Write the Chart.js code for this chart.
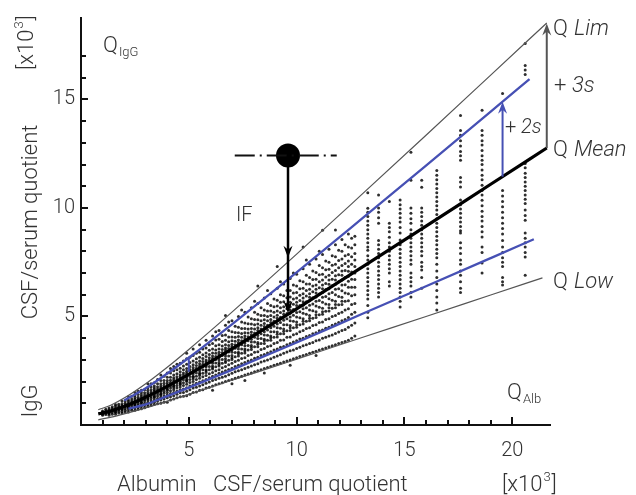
<!DOCTYPE html>
<html>
<head>
<meta charset="utf-8">
<script src="https://cdn.jsdelivr.net/npm/chart.js@4.4.0/dist/chart.umd.min.js"></script>
<style>
  html, body { margin: 0; padding: 0; background: #fff; }
  canvas { display: block; }
</style>
</head>
<body>
<canvas id="reiber" width="636" height="495"></canvas>
<script>
// tick labels
const xTickLabels = [5, 10, 15, 20];
const yTickLabels = [5, 10, 15];

// reference curves (x = Q Alb, y = Q IgG, both x10^3)
const limX = [0.8, 1.4, 2, 3, 4, 5, 7, 10, 13, 16, 19, 21.6];
const limY = [0.70, 0.92, 1.24, 1.90, 2.66, 3.48, 5.20, 7.87, 10.60, 13.35, 16.12, 18.52];
const meanX = [0.8, 1.4, 2, 3, 4, 5, 7, 10, 13, 16, 19, 21.6];
const meanY = [0.51, 0.65, 0.85, 1.28, 1.78, 2.33, 3.51, 5.35, 7.25, 9.16, 11.09, 12.76];
const lowX = [0.8, 1.4, 2, 3, 4, 5, 7, 10, 13, 16, 19, 21.4];
const lowY = [0.24, 0.36, 0.51, 0.79, 1.10, 1.41, 2.06, 3.03, 4.02, 5.00, 5.99, 6.78];
const upper2sX = [2, 3, 4, 5, 7, 10, 13, 16, 19, 20.8];
const upper2sY = [1.13, 1.69, 2.37, 3.10, 4.64, 7.03, 9.48, 11.95, 14.44, 15.93];
const lower2sX = [2.2, 3, 4, 5, 7, 10, 13, 16, 19, 21];
const lower2sY = [0.75, 0.95, 1.33, 1.72, 2.54, 3.80, 5.10, 6.39, 7.69, 8.56];

// patient cloud, dense part (one list of y per x column)
const cloudX = [1.0, 1.3, 1.6, 1.9, 2.2, 2.5, 2.8, 3.1, 3.4, 3.7, 4.0, 4.3, 4.6, 4.9, 5.2, 5.5, 5.8,
  6.1, 6.4, 6.7, 7.0, 7.3, 7.6, 7.9, 8.2, 8.5, 8.8, 9.1, 9.4, 9.7, 10.0, 10.3, 10.6, 10.9, 11.2,
  11.5, 11.8, 12.1, 12.4, 12.7];
const cloudY = [
  [0.45, 0.5, 0.55, 0.6, 0.65, 0.52, 0.58],
  [0.45, 0.52, 0.58, 0.62, 0.66, 0.7, 0.78, 0.55],
  [0.5, 0.58, 0.64, 0.7, 0.74, 0.8, 0.88, 0.95, 0.6],
  [0.55, 0.62, 0.7, 0.76, 0.8, 0.85, 0.9, 0.98, 1.1, 0.72],
  [0.6, 0.7, 0.78, 0.85, 0.9, 0.95, 1.0, 1.08, 1.15, 1.3, 0.82],
  [0.68, 0.78, 0.88, 0.95, 1.0, 1.05, 1.1, 1.18, 1.25, 1.35, 1.5, 0.92],
  [0.75, 0.85, 0.95, 1.05, 1.12, 1.18, 1.22, 1.3, 1.38, 1.48, 1.6, 1.02],
  [0.85, 0.95, 1.05, 1.15, 1.25, 1.3, 1.35, 1.42, 1.5, 1.6, 1.72, 1.9, 1.2],
  [0.95, 1.05, 1.15, 1.25, 1.35, 1.42, 1.48, 1.55, 1.62, 1.7, 1.8, 1.95, 1.3],
  [1.0, 1.15, 1.28, 1.38, 1.48, 1.55, 1.6, 1.66, 1.72, 1.8, 1.9, 2.05, 2.3, 1.42],
  [1.05, 1.25, 1.38, 1.5, 1.6, 1.7, 1.75, 1.8, 1.86, 1.95, 2.05, 2.2, 2.4, 1.65],
  [1.2, 1.35, 1.5, 1.62, 1.72, 1.82, 1.9, 1.95, 2.0, 2.08, 2.18, 2.3, 2.5, 2.7, 1.78],
  [1.3, 1.48, 1.62, 1.75, 1.85, 1.95, 2.02, 2.08, 2.14, 2.22, 2.32, 2.45, 2.62, 2.85, 1.9],
  [1.35, 1.55, 1.72, 1.88, 2.0, 2.1, 2.18, 2.25, 2.3, 2.38, 2.48, 2.6, 2.8, 3.05, 2.05, 3.3],
  [1.5, 1.7, 1.85, 2.0, 2.12, 2.25, 2.35, 2.42, 2.48, 2.55, 2.65, 2.78, 2.95, 3.2, 2.2, 3.5],
  [1.6, 1.8, 1.98, 2.15, 2.28, 2.4, 2.5, 2.58, 2.65, 2.72, 2.82, 2.95, 3.12, 3.35, 2.35, 3.7],
  [1.7, 1.92, 2.1, 2.28, 2.42, 2.55, 2.68, 2.75, 2.82, 2.9, 3.0, 3.15, 3.32, 3.55, 2.5, 3.9],
  [1.8, 2.05, 2.25, 2.42, 2.58, 2.72, 2.85, 2.92, 3.0, 3.08, 3.18, 3.32, 3.5, 3.75, 2.65, 4.1, 1.6],
  [1.9, 2.15, 2.38, 2.55, 2.72, 2.88, 3.0, 3.1, 3.18, 3.25, 3.35, 3.5, 3.7, 3.95, 2.8, 4.35],
  [2.0, 2.25, 2.5, 2.7, 2.88, 3.05, 3.18, 3.28, 3.36, 3.45, 3.55, 3.7, 3.9, 4.15, 2.95, 4.6, 5.05],
  [2.1, 2.38, 2.62, 2.85, 3.02, 3.2, 3.35, 3.45, 3.55, 3.62, 3.72, 3.88, 4.05, 4.3, 3.1, 4.8, 1.9],
  [2.2, 2.5, 2.75, 2.98, 3.18, 3.35, 3.5, 3.62, 3.72, 3.8, 3.92, 4.08, 4.25, 4.5, 3.28, 5.0],
  [2.3, 2.6, 2.88, 3.1, 3.32, 3.5, 3.65, 3.78, 3.9, 3.98, 4.1, 4.25, 4.45, 4.7, 3.42, 5.2, 2.05],
  [2.4, 2.72, 3.0, 3.25, 3.48, 3.66, 3.82, 3.95, 4.06, 4.16, 4.28, 4.45, 4.65, 4.9, 3.58, 5.4],
  [2.5, 2.82, 3.12, 3.38, 3.6, 3.8, 3.98, 4.12, 4.24, 4.35, 4.48, 4.65, 4.85, 5.1, 3.72, 5.6, 6.4],
  [2.6, 2.95, 3.25, 3.52, 3.75, 3.95, 4.15, 4.3, 4.42, 4.54, 4.68, 4.85, 5.05, 5.3, 3.88, 5.85, 2.4],
  [2.7, 3.05, 3.38, 3.65, 3.9, 4.1, 4.3, 4.48, 4.6, 4.72, 4.86, 5.05, 5.25, 5.5, 4.02, 6.05],
  [2.8, 3.18, 3.5, 3.8, 4.05, 4.28, 4.48, 4.65, 4.8, 4.92, 5.06, 5.25, 5.48, 5.75, 4.18, 6.3, 7.3],
  [2.9, 3.3, 3.62, 3.92, 4.2, 4.42, 4.62, 4.82, 4.98, 5.1, 5.25, 5.45, 5.68, 5.95, 4.32, 6.5],
  [3.0, 3.42, 3.75, 4.05, 4.35, 4.58, 4.8, 4.98, 5.15, 5.3, 5.45, 5.65, 5.9, 6.2, 4.48, 6.75, 2.75],
  [3.1, 3.52, 3.88, 4.2, 4.5, 4.75, 4.98, 5.18, 5.35, 5.5, 5.65, 5.85, 6.1, 6.4, 4.62, 6.95],
  [3.2, 3.65, 4.0, 4.35, 4.65, 4.9, 5.15, 5.35, 5.52, 5.68, 5.85, 6.05, 6.3, 6.6, 4.78, 7.2, 8.2],
  [3.3, 3.75, 4.12, 4.48, 4.8, 5.05, 5.3, 5.52, 5.72, 5.88, 6.05, 6.25, 6.5, 6.8, 4.92, 7.4],
  [3.4, 3.88, 4.25, 4.62, 4.95, 5.22, 5.48, 5.7, 5.9, 6.08, 6.25, 6.45, 6.72, 7.02, 5.08, 7.65, 3.2],
  [3.5, 4.0, 4.38, 4.75, 5.1, 5.38, 5.65, 5.88, 6.1, 6.28, 6.45, 6.68, 6.95, 7.25, 5.22, 7.85, 8.97],
  [3.6, 4.1, 4.5, 4.9, 5.25, 5.55, 5.82, 6.05, 6.28, 6.48, 6.68, 6.9, 7.18, 7.5, 5.4, 8.1],
  [3.7, 4.22, 4.65, 5.05, 5.4, 5.7, 6.0, 6.25, 6.48, 6.68, 6.88, 7.12, 7.4, 7.75, 5.55, 8.3, 8.98],
  [3.8, 4.35, 4.8, 5.2, 5.55, 5.88, 6.18, 6.45, 6.68, 6.9, 7.1, 7.35, 7.65, 8.0, 5.7, 8.55],
  [3.9, 4.5, 4.95, 5.35, 5.72, 6.05, 6.35, 6.62, 6.85, 7.08, 7.3, 7.55, 7.85, 8.2, 8.8],
  [4.1, 4.7, 5.2, 5.6, 6.0, 6.35, 6.7, 7.0, 7.3, 7.6, 7.9, 8.3, 8.7]
];

// in-between columns of the dense part
const cloud2X = [1.15, 1.45, 1.75, 2.05, 2.35, 2.65, 2.95, 3.25, 3.55, 3.85, 4.15, 4.45, 4.75, 5.05,
  5.35, 5.65, 5.95, 6.25, 6.55, 6.85, 7.15, 7.45, 7.75, 8.05, 8.35, 8.65, 8.95, 9.25, 9.55, 9.85,
  10.15, 10.45, 10.75, 11.05, 11.35, 11.65, 11.95, 12.25, 12.55];
const cloud2Y = [
  [0.48, 0.54, 0.6, 0.66, 0.72],
  [0.5, 0.58, 0.64, 0.7, 0.76, 0.84],
  [0.55, 0.63, 0.7, 0.76, 0.82, 0.88, 0.96],
  [0.6, 0.68, 0.76, 0.83, 0.88, 0.93, 1.0, 1.1],
  [0.68, 0.76, 0.84, 0.92, 0.98, 1.04, 1.1, 1.2, 1.32],
  [0.72, 0.82, 0.92, 1.0, 1.08, 1.14, 1.2, 1.28, 1.4, 1.55],
  [0.8, 0.9, 1.0, 1.1, 1.18, 1.25, 1.3, 1.38, 1.48, 1.62],
  [0.9, 1.0, 1.12, 1.22, 1.3, 1.38, 1.44, 1.52, 1.62, 1.75, 1.9],
  [0.98, 1.1, 1.22, 1.34, 1.44, 1.52, 1.58, 1.66, 1.76, 1.9, 2.1],
  [1.05, 1.2, 1.34, 1.46, 1.56, 1.66, 1.74, 1.82, 1.92, 2.05, 2.25],
  [1.15, 1.3, 1.45, 1.58, 1.7, 1.8, 1.88, 1.96, 2.06, 2.2, 2.4, 2.6],
  [1.25, 1.42, 1.56, 1.7, 1.82, 1.94, 2.04, 2.12, 2.22, 2.36, 2.55, 2.8],
  [1.32, 1.5, 1.66, 1.82, 1.95, 2.08, 2.2, 2.3, 2.4, 2.55, 2.72, 2.95],
  [1.42, 1.62, 1.8, 1.96, 2.1, 2.24, 2.36, 2.46, 2.56, 2.7, 2.88, 3.12],
  [1.52, 1.74, 1.92, 2.1, 2.25, 2.4, 2.52, 2.62, 2.74, 2.88, 3.05, 3.3],
  [1.62, 1.85, 2.04, 2.22, 2.38, 2.54, 2.68, 2.8, 2.92, 3.06, 3.24, 3.5],
  [1.74, 1.98, 2.18, 2.36, 2.54, 2.7, 2.86, 2.98, 3.1, 3.25, 3.44, 3.7],
  [1.85, 2.1, 2.3, 2.5, 2.68, 2.86, 3.02, 3.16, 3.3, 3.45, 3.65, 3.92, 4.3],
  [1.95, 2.2, 2.44, 2.64, 2.84, 3.02, 3.2, 3.34, 3.48, 3.64, 3.85, 4.12],
  [2.05, 2.32, 2.56, 2.78, 2.98, 3.18, 3.36, 3.52, 3.66, 3.84, 4.05, 4.35, 4.75],
  [2.15, 2.45, 2.7, 2.92, 3.14, 3.34, 3.54, 3.7, 3.86, 4.04, 4.26, 4.55],
  [2.25, 2.55, 2.82, 3.06, 3.3, 3.5, 3.7, 3.88, 4.04, 4.22, 4.45, 4.75, 5.3],
  [2.35, 2.66, 2.95, 3.2, 3.45, 3.66, 3.88, 4.06, 4.24, 4.42, 4.66, 4.98],
  [2.45, 2.78, 3.08, 3.35, 3.6, 3.82, 4.04, 4.24, 4.42, 4.62, 4.86, 5.2, 5.7],
  [2.55, 2.9, 3.2, 3.48, 3.75, 3.98, 4.2, 4.42, 4.6, 4.8, 5.05, 5.4],
  [2.65, 3.0, 3.32, 3.62, 3.9, 4.14, 4.38, 4.6, 4.8, 5.0, 5.25, 5.6, 6.2],
  [2.75, 3.12, 3.45, 3.76, 4.04, 4.3, 4.55, 4.78, 4.98, 5.2, 5.45, 5.8],
  [2.85, 3.24, 3.58, 3.9, 4.2, 4.46, 4.72, 4.96, 5.18, 5.4, 5.66, 6.0, 6.6],
  [2.95, 3.36, 3.7, 4.04, 4.34, 4.62, 4.9, 5.14, 5.36, 5.58, 5.86, 6.2],
  [3.05, 3.46, 3.82, 4.16, 4.48, 4.78, 5.06, 5.32, 5.56, 5.8, 6.08, 6.45, 7.0],
  [3.15, 3.58, 3.96, 4.3, 4.62, 4.94, 5.22, 5.5, 5.74, 5.98, 6.28, 6.65],
  [3.25, 3.7, 4.08, 4.44, 4.78, 5.1, 5.4, 5.68, 5.94, 6.2, 6.5, 6.9, 7.6],
  [3.35, 3.8, 4.2, 4.58, 4.92, 5.26, 5.58, 5.86, 6.14, 6.4, 6.7, 7.1],
  [3.45, 3.92, 4.34, 4.72, 5.08, 5.42, 5.74, 6.04, 6.32, 6.6, 6.92, 7.35, 8.0],
  [3.55, 4.04, 4.46, 4.86, 5.24, 5.58, 5.92, 6.24, 6.52, 6.82, 7.15, 7.55],
  [3.65, 4.15, 4.6, 5.0, 5.38, 5.75, 6.1, 6.42, 6.72, 7.02, 7.36, 7.8],
  [3.75, 4.28, 4.72, 5.14, 5.54, 5.92, 6.28, 6.6, 6.92, 7.24, 7.58, 8.05],
  [3.85, 4.4, 4.86, 5.3, 5.7, 6.08, 6.46, 6.8, 7.12, 7.44, 7.8, 8.3],
  [4.0, 4.6, 5.1, 5.55, 5.95, 6.35, 6.72, 7.05, 7.4, 7.75, 8.15, 8.6]
];

// patient cloud, sparse columns at high Q Alb
const colX = [13.3, 13.8, 14.3, 14.8, 15.3, 15.8, 16.5, 17.6, 18.6, 19.55, 20.6];
const colY = [
  [10.7, 9.98, 9.8, 9.6, 9.4, 9.2, 9.0, 8.8, 8.6, 8.4, 8.2, 8.05, 7.8, 7.6, 7.4, 7.2, 7.0, 6.8, 6.6, 6.4, 6.2, 6.0, 5.8, 5.5, 5.2, 4.94],
  [10.6, 10.0, 9.8, 9.55, 9.3, 8.5, 8.3, 8.1, 7.9, 7.7, 7.5, 7.3, 7.1, 6.9, 6.7, 6.5, 6.3, 6.1, 5.9],
  [10.3, 9.3, 9.1, 8.9, 8.65, 8.4, 8.2, 8.0, 7.8, 7.6, 7.4, 7.2, 7.0, 6.6, 6.4],
  [10.36, 10.15, 9.95, 9.75, 9.55, 9.35, 9.1, 8.84, 8.52, 8.3, 8.1, 7.9, 7.7, 7.5, 7.3, 7.1, 6.9, 6.7, 6.5, 6.3, 6.1, 5.9, 5.7, 5.44],
  [12.56, 11.27, 10.0, 9.75, 9.5, 9.3, 9.0, 8.8, 8.6, 8.4, 8.2, 8.0, 7.8, 7.6, 7.4, 7.0, 6.8, 6.6, 6.4, 6.1, 5.9],
  [11.27, 10.95, 10.0, 9.8, 9.6, 9.4, 9.2, 9.0, 8.8, 8.6, 8.4, 8.2, 8.0, 7.8, 7.5, 7.3, 7.14, 6.8, 6.3],
  [11.73, 11.5, 11.3, 11.1, 10.9, 10.7, 10.5, 10.3, 10.1, 9.9, 9.7, 9.5, 9.3, 9.1, 8.9, 8.7, 8.5, 8.3, 8.1, 7.9, 7.7, 7.4, 7.1, 6.8, 6.5, 6.2, 5.9, 5.62, 5.3],
  [14.26, 13.57, 13.35, 13.1, 12.85, 12.6, 12.4, 12.2, 11.4, 11.2, 10.96, 10.36, 10.15, 9.95, 9.75, 9.55, 9.35, 9.15, 8.95, 8.84, 8.4, 8.15, 7.9, 7.6, 7.4, 7.1, 6.9, 6.6, 6.3, 6.1],
  [14.5, 13.57, 13.35, 13.1, 12.9, 12.65, 12.4, 12.2, 12.0, 11.75, 11.5, 11.3, 11.05, 10.8, 10.6, 10.35, 10.1, 9.85, 9.6, 9.4, 9.15, 8.9, 8.66, 8.2, 7.95, 7.46, 7.0],
  [15.27, 10.8, 10.55, 10.3, 10.05, 9.8, 9.55, 9.3, 9.05, 8.8, 8.5, 8.2, 7.95, 7.7, 7.5, 7.3, 6.8, 6.6, 6.45],
  [17.58, 16.56, 16.35, 16.15, 12.05, 11.85, 11.6, 11.4, 11.2, 11.0, 10.8, 10.6, 10.4, 10.2, 9.9, 9.65, 9.43, 8.84, 8.6, 8.4, 8.2, 7.95, 7.74, 6.9]
];

// annotation marks: single patient, IF arrow, +2s / +3s arrows
const patientX = 9.6;
const patientY = 12.42;
const patientLineX = [7.13, 11.86];
const ifArrowY = [12.42, 5.3];
const arrowX = [21.6, 19.55, 9.6, 9.6];
const arrowTip = [18.5, 14.89, 7.7, 5.15];
const arrowDir = [1, 1, -1, -1];
const arrowColor = ["#555", "#4650b4", "#000", "#000"];
const threeSX = 21.6, threeSY = [12.76, 18.2];
const twoSX = 19.55, twoSY = [11.44, 14.6];
const smallTickX = 5, smallTickY = [2.45, 3.14];

const blue = "#4650b4";
const textColor = "#333";
const fontFam = "Roboto, 'Liberation Sans', sans-serif";

function pts(xs, ys) {
  return xs.map((x, i) => ({ x: x, y: ys[i] }));
}

const cloud = [];
cloudX.forEach((x, i) => cloudY[i].forEach(y => cloud.push({ x: x, y: y })));
cloud2X.forEach((x, i) => cloud2Y[i].forEach(y => cloud.push({ x: x, y: y })));
colX.forEach((x, i) => colY[i].forEach(y => cloud.push({ x: x, y: y })));

function curve(data, color, width, order) {
  return {
    data: data, showLine: true, borderColor: color, borderWidth: width,
    pointRadius: 0, cubicInterpolationMode: "monotone", fill: false, order: order,
  };
}

// inside tick marks
const innerTicks = {
  id: "innerTicks",
  afterDraw(chart) {
    const ctx = chart.ctx, a = chart.chartArea;
    const xs = chart.scales.x, ys = chart.scales.y;
    ctx.save();
    ctx.strokeStyle = "#111";
    ctx.lineWidth = 2;
    ctx.beginPath();
    xs.ticks.forEach(t => {
      if (t.value <= 0 || t.value % 1 !== 0) return;
      const px = Math.round(xs.getPixelForValue(t.value));
      const len = t.value % 5 === 0 ? 8 : 5;
      ctx.moveTo(px, a.bottom);
      ctx.lineTo(px, a.bottom - len);
    });
    ys.ticks.forEach(t => {
      if (t.value <= 0 || t.value % 1 !== 0) return;
      const py = Math.round(ys.getPixelForValue(t.value));
      const len = t.value % 5 === 0 ? 7 : 5;
      ctx.moveTo(a.left, py);
      ctx.lineTo(a.left + len, py);
    });
    ctx.stroke();
    ctx.restore();
  }
};

// arrow heads
const arrowHeads = {
  id: "arrowHeads",
  afterDatasetsDraw(chart) {
    const ctx = chart.ctx;
    const xs = chart.scales.x, ys = chart.scales.y;
    ctx.save();
    arrowX.forEach((x, i) => {
      const px = xs.getPixelForValue(x);
      const py = ys.getPixelForValue(arrowTip[i]);
      const d = arrowDir[i];
      ctx.fillStyle = arrowColor[i];
      ctx.beginPath();
      ctx.moveTo(px, py);
      ctx.lineTo(px - 4.5, py + d * 12);
      ctx.lineTo(px, py + d * 8);
      ctx.lineTo(px + 4.5, py + d * 12);
      ctx.closePath();
      ctx.fill();
    });
    ctx.restore();
  }
};

function sup(ctx, x, y, size) {
  // "[x10³]" with a raised 3
  ctx.font = "300 " + size + "px " + fontFam;
  ctx.fillText("[x10", x, y);
  let w = ctx.measureText("[x10").width;
  ctx.font = "300 " + Math.round(size * 0.6) + "px " + fontFam;
  ctx.fillText("3", x + w + 1, y - size * 0.45);
  w += ctx.measureText("3").width + 2;
  ctx.font = "300 " + size + "px " + fontFam;
  ctx.fillText("]", x + w, y);
}

function qLabel(ctx, x, y, rest, italic, sub) {
  ctx.font = "300 22px " + fontFam;
  ctx.fillText("Q", x, y);
  let w = ctx.measureText("Q").width;
  if (sub) {
    ctx.font = "300 13px " + fontFam;
    ctx.fillText(rest, x + w + 1, y + 4);
  } else {
    ctx.font = (italic ? "italic " : "") + "300 22px " + fontFam;
    ctx.fillText(rest, x + w + 6, y);
  }
}

const texts = {
  id: "texts",
  afterDraw(chart) {
    const ctx = chart.ctx;
    ctx.save();
    ctx.fillStyle = textColor;
    ctx.textAlign = "left";
    ctx.textBaseline = "alphabetic";

    // x axis title
    ctx.font = "300 22px " + fontFam;
    ctx.fillText("Albumin", 117, 491);
    ctx.fillText("CSF/serum quotient", 213, 491);
    sup(ctx, 502, 491, 22);

    // y axis title, rotated
    ctx.save();
    ctx.translate(37, 0);
    ctx.rotate(-Math.PI / 2);
    ctx.textAlign = "center";
    ctx.font = "300 22px " + fontFam;
    ctx.fillText("CSF/serum quotient", -222, 0);
    ctx.fillText("IgG", -401, 0);
    ctx.textAlign = "left";
    sup(ctx, -70, -4, 22);
    ctx.restore();

    qLabel(ctx, 103, 52, "IgG", false, true);
    qLabel(ctx, 507, 399, "Alb", false, true);
    qLabel(ctx, 553, 35, "Lim", true, false);
    qLabel(ctx, 553, 156, "Mean", true, false);
    qLabel(ctx, 553, 288, "Low", true, false);

    ctx.font = "300 22px " + fontFam;
    ctx.fillText("+", 554, 92);
    ctx.font = "italic 300 22px " + fontFam;
    ctx.fillText("3s", 572, 92);
    ctx.font = "300 20px " + fontFam;
    ctx.fillText("+", 505, 133);
    ctx.font = "italic 300 20px " + fontFam;
    ctx.fillText("2s", 521, 133);
    ctx.font = "300 20px " + fontFam;
    ctx.fillText("IF", 236, 221);
    ctx.restore();
  }
};

new Chart(document.getElementById("reiber"), {
  type: "scatter",
  data: {
    datasets: [
      curve(pts(meanX, meanY), "#000", 3.2, 1),
      curve(pts(upper2sX, upper2sY), blue, 2.3, 2),
      curve(pts(lower2sX, lower2sY), blue, 2.3, 2),
      curve(pts(limX, limY), "#555", 1.2, 3),
      curve(pts(lowX, lowY), "#555", 1.2, 3),
      curve(pts([smallTickX, smallTickX], smallTickY), blue, 2, 2),
      curve(pts([twoSX, twoSX], twoSY), blue, 2, 0),
      curve(pts([threeSX, threeSX], threeSY), "#555", 2, 0),
      curve(pts([patientX, patientX], ifArrowY), "#000", 2.5, 0),
      Object.assign(curve(pts(patientLineX, [patientY, patientY]), "#111", 2, 0), { borderDash: [20, 5, 2, 5] }),
      {
        data: [{ x: patientX, y: patientY }], pointRadius: 12,
        pointBackgroundColor: "#000", pointBorderWidth: 0, order: 0,
      },
      {
        data: cloud, pointRadius: 1.5, pointBorderWidth: 0,
        pointBackgroundColor: "rgba(0,0,0,0.82)", order: 10,
      },
    ],
  },
  options: {
    responsive: false,
    animation: false,
    devicePixelRatio: 1,
    layout: { padding: { top: 17, right: 86, left: 0, bottom: 0 } },
    plugins: { legend: { display: false }, tooltip: { enabled: false } },
    scales: {
      x: {
        type: "linear", min: 0, max: 21.75,
        grid: { display: false, drawTicks: false },
        border: { display: true, color: "#111", width: 2 },
        ticks: {
          stepSize: 1, autoSkip: false, maxRotation: 0, padding: 14,
          color: textColor, font: { family: fontFam, size: 20, weight: 300 },
          callback: v => (xTickLabels.includes(v) ? String(v) : ""),
        },
        afterFit: s => { s.height = 70; },
      },
      y: {
        type: "linear", min: 0, max: 18.75,
        grid: { display: false, drawTicks: false },
        border: { display: true, color: "#111", width: 2 },
        ticks: {
          stepSize: 1, autoSkip: false, padding: 6,
          color: textColor, font: { family: fontFam, size: 20, weight: 300 },
          callback: v => (yTickLabels.includes(v) ? String(v) : ""),
        },
        afterFit: s => { s.width = 81; },
      },
    },
  },
  plugins: [innerTicks, arrowHeads, texts],
});
</script>
</body>
</html>
